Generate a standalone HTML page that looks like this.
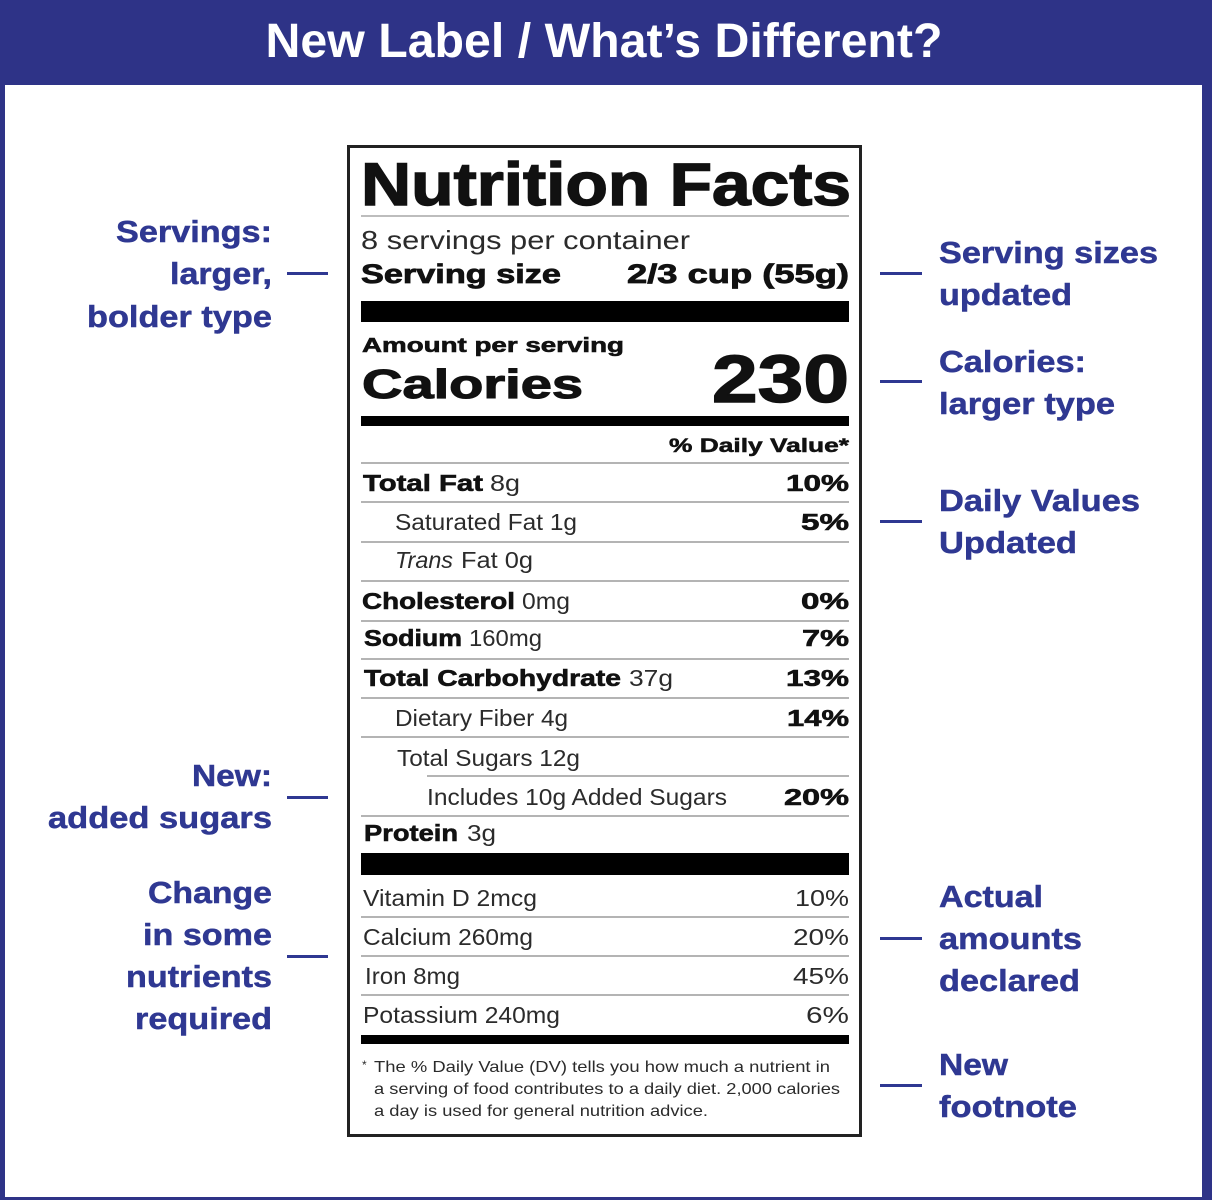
<!DOCTYPE html>
<html>
<head>
<meta charset="utf-8">
<style>
html,body{margin:0;padding:0;background:#fff;}
svg{display:block;}
text{font-family:"Liberation Sans",Arial,sans-serif;}
.an{font-weight:bold;font-size:31px;fill:#2f3892;stroke:#2f3892;stroke-width:0.5;}
.b{font-weight:bold;fill:#111;stroke:#111;stroke-width:0.6;}
.r{fill:#2b2b2b;}
</style>
</head>
<body>
<svg width="1212" height="1200" viewBox="0 0 1212 1200" xmlns="http://www.w3.org/2000/svg">
<rect x="0" y="0" width="1212" height="1200" fill="#fff"/>
<rect x="0" y="0" width="1212" height="85" fill="#2e3387"/>
<rect x="0" y="85" width="5" height="1115" fill="#2e3387"/>
<rect x="1202" y="85" width="10" height="1115" fill="#2e3387"/>
<rect x="0" y="1197" width="1212" height="3" fill="#2e3387"/>
<text x="604" y="57" text-anchor="middle" font-size="48" font-weight="bold" fill="#fff" textLength="677" lengthAdjust="spacingAndGlyphs">New Label / What’s Different?</text>

<rect x="348.5" y="146.5" width="512" height="989" fill="#fff" stroke="#222" stroke-width="3"/>

<text x="361" y="205" font-size="60" class="b" style="stroke-width:1.4" textLength="490" lengthAdjust="spacingAndGlyphs">Nutrition Facts</text>
<rect x="361" y="215" width="488" height="2" fill="#bdbdbd"/>

<text x="361" y="249" font-size="26" class="r" textLength="329" lengthAdjust="spacingAndGlyphs">8 servings per container</text>
<text x="361" y="283" font-size="27" class="b" style="stroke-width:0.8" textLength="200" lengthAdjust="spacingAndGlyphs">Serving size</text>
<text x="849" y="283" font-size="27" class="b" style="stroke-width:0.8" text-anchor="end" textLength="222" lengthAdjust="spacingAndGlyphs">2/3 cup (55g)</text>

<rect x="361" y="301" width="488" height="21" fill="#000"/>

<text x="362" y="352" font-size="20" class="b" style="stroke-width:0.6" textLength="262" lengthAdjust="spacingAndGlyphs">Amount per serving</text>
<text x="362" y="398" font-size="41" class="b" style="stroke-width:1.1" textLength="221" lengthAdjust="spacingAndGlyphs">Calories</text>
<text x="849" y="402" font-size="67" class="b" style="stroke-width:1.4" text-anchor="end" textLength="137" lengthAdjust="spacingAndGlyphs">230</text>

<rect x="361" y="416" width="488" height="10" fill="#000"/>
<text x="849" y="452" font-size="19" class="b" style="stroke-width:0.5" text-anchor="end" textLength="180" lengthAdjust="spacingAndGlyphs">% Daily Value*</text>

<g fill="#b4b4b4">
<rect x="361" y="462" width="488" height="2"/>
<rect x="361" y="501" width="488" height="2"/>
<rect x="361" y="541" width="488" height="2"/>
<rect x="361" y="580" width="488" height="2"/>
<rect x="361" y="620" width="488" height="2"/>
<rect x="361" y="658" width="488" height="2"/>
<rect x="361" y="697" width="488" height="2"/>
<rect x="361" y="736" width="488" height="2"/>
<rect x="427" y="775" width="422" height="2"/>
<rect x="361" y="815" width="488" height="2"/>
<rect x="361" y="916" width="488" height="2"/>
<rect x="361" y="955" width="488" height="2"/>
<rect x="361" y="994" width="488" height="2"/>
</g>

<text x="363" y="491" font-size="23" class="b" textLength="120" lengthAdjust="spacingAndGlyphs">Total Fat</text>
<text x="490" y="491" font-size="23" class="r" textLength="30" lengthAdjust="spacingAndGlyphs">8g</text>
<text x="849" y="491" font-size="23" class="b" text-anchor="end" textLength="63" lengthAdjust="spacingAndGlyphs">10%</text>

<text x="395" y="530" font-size="23" class="r" textLength="182" lengthAdjust="spacingAndGlyphs">Saturated Fat 1g</text>
<text x="849" y="530" font-size="23" class="b" text-anchor="end" textLength="48" lengthAdjust="spacingAndGlyphs">5%</text>

<text x="395" y="568" font-size="23" class="r" font-style="italic" textLength="58" lengthAdjust="spacingAndGlyphs">Trans</text>
<text x="461" y="568" font-size="23" class="r" textLength="72" lengthAdjust="spacingAndGlyphs">Fat 0g</text>

<text x="362" y="609" font-size="23" class="b" textLength="153" lengthAdjust="spacingAndGlyphs">Cholesterol</text>
<text x="522" y="609" font-size="23" class="r" textLength="48" lengthAdjust="spacingAndGlyphs">0mg</text>
<text x="849" y="609" font-size="23" class="b" text-anchor="end" textLength="48" lengthAdjust="spacingAndGlyphs">0%</text>

<text x="364" y="646" font-size="23" class="b" textLength="98" lengthAdjust="spacingAndGlyphs">Sodium</text>
<text x="469" y="646" font-size="23" class="r" textLength="73" lengthAdjust="spacingAndGlyphs">160mg</text>
<text x="849" y="646" font-size="23" class="b" text-anchor="end" textLength="47" lengthAdjust="spacingAndGlyphs">7%</text>

<text x="364" y="686" font-size="23" class="b" textLength="257" lengthAdjust="spacingAndGlyphs">Total Carbohydrate</text>
<text x="629" y="686" font-size="23" class="r" textLength="44" lengthAdjust="spacingAndGlyphs">37g</text>
<text x="849" y="686" font-size="23" class="b" text-anchor="end" textLength="63" lengthAdjust="spacingAndGlyphs">13%</text>

<text x="395" y="726" font-size="23" class="r" textLength="173" lengthAdjust="spacingAndGlyphs">Dietary Fiber 4g</text>
<text x="849" y="726" font-size="23" class="b" text-anchor="end" textLength="62" lengthAdjust="spacingAndGlyphs">14%</text>

<text x="397" y="766" font-size="23" class="r" textLength="183" lengthAdjust="spacingAndGlyphs">Total Sugars 12g</text>

<text x="427" y="805" font-size="23" class="r" textLength="300" lengthAdjust="spacingAndGlyphs">Includes 10g Added Sugars</text>
<text x="849" y="805" font-size="23" class="b" text-anchor="end" textLength="65" lengthAdjust="spacingAndGlyphs">20%</text>

<text x="364" y="841" font-size="23" class="b" textLength="94" lengthAdjust="spacingAndGlyphs">Protein</text>
<text x="467" y="841" font-size="23" class="r" textLength="29" lengthAdjust="spacingAndGlyphs">3g</text>

<rect x="361" y="853" width="488" height="22" fill="#000"/>

<text x="363" y="906" font-size="23" class="r" textLength="174" lengthAdjust="spacingAndGlyphs">Vitamin D 2mcg</text>
<text x="849" y="906" font-size="23" class="r" text-anchor="end" textLength="54" lengthAdjust="spacingAndGlyphs">10%</text>
<text x="363" y="945" font-size="23" class="r" textLength="170" lengthAdjust="spacingAndGlyphs">Calcium 260mg</text>
<text x="849" y="945" font-size="23" class="r" text-anchor="end" textLength="56" lengthAdjust="spacingAndGlyphs">20%</text>
<text x="365" y="984" font-size="23" class="r" textLength="95" lengthAdjust="spacingAndGlyphs">Iron 8mg</text>
<text x="849" y="984" font-size="23" class="r" text-anchor="end" textLength="56" lengthAdjust="spacingAndGlyphs">45%</text>
<text x="363" y="1023" font-size="23" class="r" textLength="197" lengthAdjust="spacingAndGlyphs">Potassium 240mg</text>
<text x="849" y="1023" font-size="23" class="r" text-anchor="end" textLength="43" lengthAdjust="spacingAndGlyphs">6%</text>

<rect x="361" y="1035" width="488" height="9" fill="#000"/>

<text x="362" y="1069" font-size="12" class="r">*</text>
<text x="374" y="1072" font-size="16" class="r" textLength="456" lengthAdjust="spacingAndGlyphs">The % Daily Value (DV) tells you how much a nutrient in</text>
<text x="374" y="1094" font-size="16" class="r" textLength="466" lengthAdjust="spacingAndGlyphs">a serving of food contributes to a daily diet. 2,000 calories</text>
<text x="374" y="1116" font-size="16" class="r" textLength="334" lengthAdjust="spacingAndGlyphs">a day is used for general nutrition advice.</text>

<g text-anchor="end">
<text x="272" y="242" class="an" textLength="156" lengthAdjust="spacingAndGlyphs">Servings:</text>
<text x="272" y="284" class="an" textLength="102" lengthAdjust="spacingAndGlyphs">larger,</text>
<text x="272" y="327" class="an" textLength="185" lengthAdjust="spacingAndGlyphs">bolder type</text>
<text x="272" y="786" class="an" textLength="80" lengthAdjust="spacingAndGlyphs">New:</text>
<text x="272" y="828" class="an" textLength="224" lengthAdjust="spacingAndGlyphs">added sugars</text>
<text x="272" y="903" class="an" textLength="124" lengthAdjust="spacingAndGlyphs">Change</text>
<text x="272" y="945" class="an" textLength="129" lengthAdjust="spacingAndGlyphs">in some</text>
<text x="272" y="987" class="an" textLength="146" lengthAdjust="spacingAndGlyphs">nutrients</text>
<text x="272" y="1029" class="an" textLength="137" lengthAdjust="spacingAndGlyphs">required</text>
</g>
<g fill="#2f3892">
<rect x="287" y="272" width="41" height="3"/>
<rect x="287" y="796" width="41" height="3"/>
<rect x="287" y="955" width="41" height="3"/>
<rect x="880" y="272" width="42" height="3"/>
<rect x="880" y="380" width="42" height="3"/>
<rect x="880" y="520" width="42" height="3"/>
<rect x="880" y="937" width="42" height="3"/>
<rect x="880" y="1084" width="42" height="3"/>
</g>
<g>
<text x="939" y="263" class="an" textLength="219" lengthAdjust="spacingAndGlyphs">Serving sizes</text>
<text x="939" y="305" class="an" textLength="133" lengthAdjust="spacingAndGlyphs">updated</text>
<text x="939" y="372" class="an" textLength="147" lengthAdjust="spacingAndGlyphs">Calories:</text>
<text x="939" y="414" class="an" textLength="176" lengthAdjust="spacingAndGlyphs">larger type</text>
<text x="939" y="511" class="an" textLength="201" lengthAdjust="spacingAndGlyphs">Daily Values</text>
<text x="939" y="553" class="an" textLength="138" lengthAdjust="spacingAndGlyphs">Updated</text>
<text x="939" y="907" class="an" textLength="104" lengthAdjust="spacingAndGlyphs">Actual</text>
<text x="939" y="949" class="an" textLength="143" lengthAdjust="spacingAndGlyphs">amounts</text>
<text x="939" y="991" class="an" textLength="141" lengthAdjust="spacingAndGlyphs">declared</text>
<text x="939" y="1075" class="an" textLength="69" lengthAdjust="spacingAndGlyphs">New</text>
<text x="939" y="1117" class="an" textLength="138" lengthAdjust="spacingAndGlyphs">footnote</text>
</g>
</svg>
</body>
</html>
